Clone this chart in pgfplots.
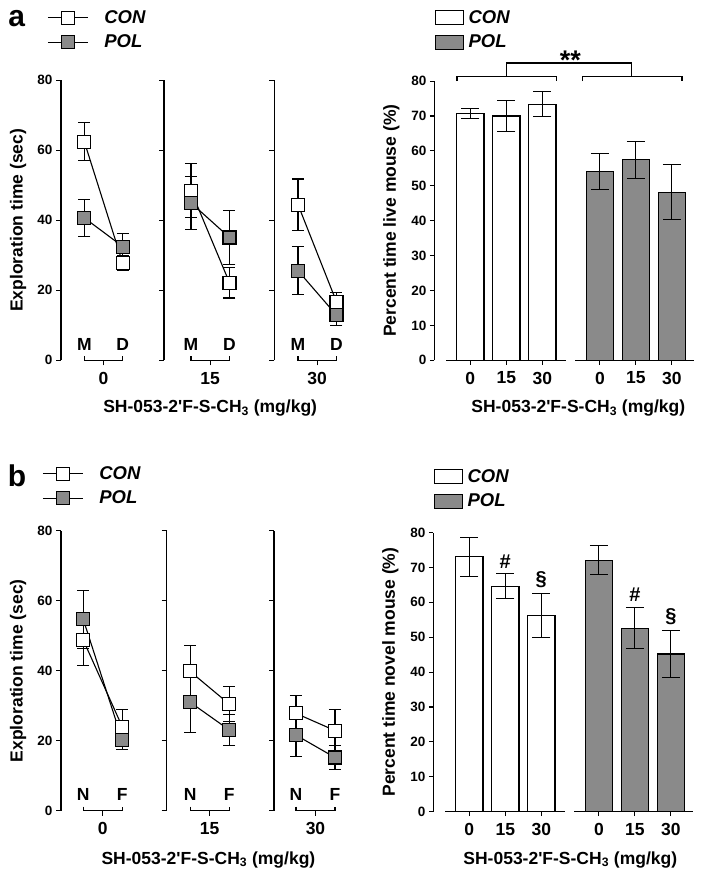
\documentclass[border=0pt]{standalone}
\usepackage{fontspec}
\setmainfont{Liberation Sans}[Ligatures=TeXOff]
\usepackage{pgfplots}
\pgfplotsset{compat=1.18}
\definecolor{polgray}{RGB}{138,138,138}
\newcommand{\fTick}{\bfseries\fontsize{13.5}{15}\selectfont}
\newcommand{\fLab}{\bfseries\fontsize{17.5}{20}\selectfont}
\newcommand{\fSig}{\bfseries\fontsize{20}{22}\selectfont}
\newcommand{\fStar}{\bfseries\fontsize{27}{29}\selectfont}
\newcommand{\fLeg}{\bfseries\itshape\fontsize{18.5}{20}\selectfont}
\newcommand{\fPan}{\bfseries\fontsize{30}{32}\selectfont}
\newcommand{\drug}{SH-053-2\symbol{39}F-S-CH\textsubscript{3} (mg/kg)}

\pgfplotsset{
  /pgf/number format/assume math mode=true,
  common/.style={
    clip=false,
    ymin=0, ymax=80,
    axis y line=left, axis x line=bottom,
    x axis line style={draw=none},
    y axis line style={-, line width=1.1pt},
    tick align=outside,
    major tick length=5pt,
    every tick/.style={black, line width=1.1pt},
    tick label style={font=\fTick},
    xticklabel style={font=\fLab, yshift=-3.5pt},
    label style={font=\fLab},
    anchor=south west,
  },
  expsub/.style={
    common, y=3.5pt, xmax=2.4,
    ytick={0,20,40,60,80}, xtick={1.5},
  },
  ebar/.style={
     error bars/y dir=both, error bars/y explicit,
     error bars/error mark=|,
     error bars/error bar style={line width=1.1pt},
     error bars/error mark options={mark size=#1, line width=1.1pt}},
  conline/.style={black, line width=1.1pt, mark=square*, mark size=6.5pt,
     mark options={fill=white, solid}, ebar=6pt},
  polline/.style={black, line width=1.1pt, mark=square*, mark size=6.5pt,
     mark options={fill=polgray, solid}, ebar=6pt},
  conbar/.style={ybar, bar width=27.3pt, bar shift=0pt, fill=white, draw=black, line width=1.1pt, ebar=9pt},
  polbar/.style={ybar, bar width=27.3pt, bar shift=0pt, fill=polgray, draw=black, line width=1.1pt, ebar=9pt},
  lineleg/.style={
     legend style={draw=none, fill=none, inner sep=0pt, font=\fLeg,
        row sep=6pt, /tikz/every odd column/.append style={column sep=14pt}},
     legend cell align=left,
     legend image code/.code={\draw[mark repeat=2, mark phase=2, ##1] plot coordinates {(0pt,0pt) (20pt,0pt) (40pt,0pt)};},
  },
  barleg/.style={
     legend style={draw=none, fill=none, inner sep=0pt, font=\fLeg,
        row sep=6pt, /tikz/every odd column/.append style={column sep=3pt}},
     legend cell align=left,
  },
}

\begin{document}
\begin{tikzpicture}
\useasboundingbox (0pt,0pt) rectangle (704pt,-879pt);

\node[font=\fPan] at (16.7pt,-18.3pt) {a};
\node[font=\fPan] at (17pt,-476pt) {b};

%%%%%%%%%%%% Panel a, left %%%%%%%%%%%%
\begin{axis}[expsub, at={(61pt,-360.3pt)}, x=38.5pt, xmin=0.395,
  xticklabels={0},
  ylabel={Exploration time (sec)},
  ylabel style={at={([xshift=-43pt]axis description cs:0,0.5)}, anchor=center},
  lineleg, legend style={at={(axis description cs:-0.181,1.180)}, anchor=west}]
\addlegendimage{black, line width=1.1pt, mark=square*, mark size=6.5pt, mark options={fill=white}}
\addlegendentry{CON}
\addlegendimage{black, line width=1.1pt, mark=square*, mark size=6.5pt, mark options={fill=polgray}}
\addlegendentry{POL}
\addplot[forget plot, conline] coordinates {(1,62.5) +- (0,5.5) (2,27.7) +- (0,2.1)};
\addplot[forget plot, polline] coordinates {(1,40.7) +- (0,5.3) (2,32.5) +- (0,3.8)};
\draw[line width=1.1pt] (axis cs:1,1.2) -- (axis cs:1,0) -- (axis cs:2,0) -- (axis cs:2,1.2);
\node[font=\fLab] at (axis cs:1,4.4) {M};
\node[font=\fLab] at (axis cs:2,4.4) {D};
\end{axis}

\begin{axis}[expsub, at={(164pt,-360.3pt)}, x=38.5pt, xmin=0.30,
  xticklabels={15}, yticklabels={},
  xlabel={\drug},
  xlabel style={at={(axis description cs:0.571,0)}, anchor=center, yshift=-48pt}]
\addplot[conline] coordinates {(1,48.5) +- (0,7.8) (2,22.2) +- (0,4.4)};
\addplot[polline] coordinates {(1,45.0) +- (0,7.5) (2,35.1) +- (0,7.6)};
\draw[line width=1.1pt] (axis cs:1,1.2) -- (axis cs:1,0) -- (axis cs:2,0) -- (axis cs:2,1.2);
\node[font=\fLab] at (axis cs:1,4.4) {M};
\node[font=\fLab] at (axis cs:2,4.4) {D};
\end{axis}

\begin{axis}[expsub, at={(274.3pt,-360.3pt)}, x=38.5pt, xmin=0.385,
  xticklabels={30}, yticklabels={}]
\addplot[conline] coordinates {(1,44.5) +- (0,7.3) (2,16.7) +- (0,2.6)};
\addplot[polline] coordinates {(1,25.6) +- (0,6.9) (2,12.9) +- (0,2.9)};
\draw[line width=1.1pt] (axis cs:1,1.2) -- (axis cs:1,0) -- (axis cs:2,0) -- (axis cs:2,1.2);
\node[font=\fLab] at (axis cs:1,4.4) {M};
\node[font=\fLab] at (axis cs:2,4.4) {D};
\end{axis}

%%%%%%%%%%%% Panel a, right %%%%%%%%%%%%
\begin{axis}[common, at={(434.3pt,-360.3pt)}, x=36pt, y=3.49pt, xmin=0, xmax=7.22,
  ytick={0,10,...,80}, xtick={1,2,3,4.6,5.6,6.6}, xticklabels={0,15,30,0,15,30},
  major tick length=4.5pt,
  ylabel={Percent time live mouse (\%)},
  ylabel style={at={([xshift=-43pt]axis description cs:0,0.5)}, anchor=center},
  xlabel={\drug},
  xlabel style={at={(axis description cs:0.554,0)}, anchor=center, yshift=-48pt},
  barleg, legend style={at={(axis description cs:0,1.183)}, anchor=west}]
\addlegendimage{legend image code/.code={\draw[fill=white, draw=black, line width=1.1pt] (0pt,-7pt) rectangle (28pt,7pt);}}
\addlegendentry{CON}
\addlegendimage{legend image code/.code={\draw[fill=polgray, draw=black, line width=1.1pt] (0pt,-7pt) rectangle (28pt,7pt);}}
\addlegendentry{POL}
\addplot[forget plot, conbar] coordinates {(1,70.7) +- (0,1.5) (2,70.0) +- (0,4.5) (3,73.4) +- (0,3.5)};
\addplot[forget plot, polbar] coordinates {(4.6,54.1) +- (0,5.2) (5.6,57.5) +- (0,5.3) (6.6,48.2) +- (0,7.8)};
\draw[line width=1.1pt] (axis cs:0.33,0) -- (axis cs:3.65,0);
\draw[line width=1.1pt] (axis cs:3.92,0) -- (axis cs:7.22,0);
\draw[line width=1.1pt] (axis cs:0.63,80.0) -- (axis cs:0.63,81.2) -- (axis cs:3.39,81.2) -- (axis cs:3.39,80.0);
\draw[line width=1.1pt] (axis cs:4.12,80.0) -- (axis cs:4.12,81.2) -- (axis cs:6.88,81.2) -- (axis cs:6.88,80.0);
\draw[line width=1.1pt] (axis cs:2.0,81.2) -- (axis cs:2.0,85.2) -- (axis cs:5.47,85.2) -- (axis cs:5.47,81.2);
\node[font=\fStar, inner sep=0pt, anchor=north] at (axis cs:3.78,88.8) {**};
\end{axis}

%%%%%%%%%%%% Panel b, left %%%%%%%%%%%%
\begin{axis}[expsub, at={(61pt,-810.7pt)}, x=39pt, xmin=0.43,
  xticklabels={0},
  ylabel={Exploration time (sec)},
  ylabel style={at={([xshift=-43pt]axis description cs:0,0.5)}, anchor=center},
  lineleg, legend style={at={(axis description cs:-0.247,1.160)}, anchor=west}]
\addlegendimage{black, line width=1.1pt, mark=square*, mark size=6.5pt, mark options={fill=white}}
\addlegendentry{CON}
\addlegendimage{black, line width=1.1pt, mark=square*, mark size=6.5pt, mark options={fill=polgray}}
\addlegendentry{POL}
\addplot[forget plot, conline] coordinates {(1,48.8) +- (0,7.2) (2,24.0) +- (0,5.0)};
\addplot[forget plot, polline] coordinates {(1,54.7) +- (0,8.3) (2,20.2) +- (0,2.7)};
\draw[line width=1.1pt] (axis cs:1,1.2) -- (axis cs:1,0) -- (axis cs:2,0) -- (axis cs:2,1.2);
\node[font=\fLab] at (axis cs:1,4.5) {N};
\node[font=\fLab] at (axis cs:2,4.5) {F};
\end{axis}

\begin{axis}[expsub, at={(166.7pt,-810.7pt)}, x=39pt, xmin=0.40,
  xticklabels={15}, yticklabels={},
  xlabel={\drug},
  xlabel style={at={(axis description cs:0.535,0)}, anchor=center, yshift=-49pt}]
\addplot[conline] coordinates {(1,39.8) +- (0,7.4) (2,30.5) +- (0,5.0)};
\addplot[polline] coordinates {(1,31.0) +- (0,8.6) (2,23.1) +- (0,4.5)};
\draw[line width=1.1pt] (axis cs:1,1.2) -- (axis cs:1,0) -- (axis cs:2,0) -- (axis cs:2,1.2);
\node[font=\fLab] at (axis cs:1,4.5) {N};
\node[font=\fLab] at (axis cs:2,4.5) {F};
\end{axis}

\begin{axis}[expsub, at={(274pt,-810.7pt)}, x=39pt, xmin=0.436,
  xticklabels={30}, yticklabels={}]
\addplot[conline] coordinates {(1,27.8) +- (0,5.1) (2,22.9) +- (0,6.1)};
\addplot[polline] coordinates {(1,21.6) +- (0,6.0) (2,15.2) +- (0,3.4)};
\draw[line width=1.1pt] (axis cs:1,1.2) -- (axis cs:1,0) -- (axis cs:2,0) -- (axis cs:2,1.2);
\node[font=\fLab] at (axis cs:1,4.5) {N};
\node[font=\fLab] at (axis cs:2,4.5) {F};
\end{axis}

%%%%%%%%%%%% Panel b, right %%%%%%%%%%%%
\begin{axis}[common, at={(433.3pt,-811.7pt)}, x=36pt, y=3.49pt, xmin=0, xmax=7.22,
  ytick={0,10,...,80}, xtick={1,2,3,4.6,5.6,6.6}, xticklabels={0,15,30,0,15,30},
  major tick length=4.5pt,
  ylabel={Percent time novel mouse (\%)},
  ylabel style={at={([xshift=-43pt]axis description cs:0,0.5)}, anchor=center},
  xlabel={\drug},
  xlabel style={at={(axis description cs:0.527,0)}, anchor=center, yshift=-48pt},
  barleg, legend style={at={(axis description cs:0,1.156)}, anchor=west}]
\addlegendimage{legend image code/.code={\draw[fill=white, draw=black, line width=1.1pt] (0pt,-7pt) rectangle (28pt,7pt);}}
\addlegendentry{CON}
\addlegendimage{legend image code/.code={\draw[fill=polgray, draw=black, line width=1.1pt] (0pt,-7pt) rectangle (28pt,7pt);}}
\addlegendentry{POL}
\addplot[forget plot, conbar] coordinates {(1,73.0) +- (0,5.6) (2,64.6) +- (0,3.6) (3,56.2) +- (0,6.4)};
\addplot[forget plot, polbar] coordinates {(4.6,72.1) +- (0,4.2) (5.6,52.6) +- (0,5.8) (6.6,45.2) +- (0,6.7)};
\draw[line width=1.1pt] (axis cs:0.33,0) -- (axis cs:3.65,0);
\draw[line width=1.1pt] (axis cs:3.92,0) -- (axis cs:7.22,0);
\node[font=\fSig] at (axis cs:2,71.6) {\#};
\node[font=\fSig] at (axis cs:3,66.6) {\S};
\node[font=\fSig] at (axis cs:5.6,62.1) {\#};
\node[font=\fSig] at (axis cs:6.6,55.9) {\S};
\end{axis}
\end{tikzpicture}
\end{document}
